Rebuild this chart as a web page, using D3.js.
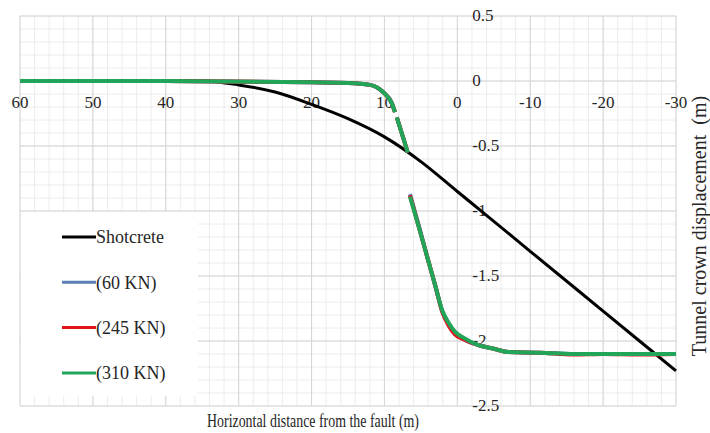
<!DOCTYPE html>
<html>
<head>
<meta charset="utf-8">
<script src="https://cdn.jsdelivr.net/npm/d3@7"></script>
<style>
  body { margin: 0; background: #fff; }
  svg text { font-family: "Liberation Serif", Tinos, "Times New Roman", "DejaVu Serif", serif; fill: #262626; }
</style>
</head>
<body>
<div id="chart"></div>
<script>
// ticks
const xTicks = [60, 50, 40, 30, 20, 10, 0, -10, -20, -30];
const yTicks = [0.5, 0, -0.5, -1, -1.5, -2, -2.5];

// shotcrete curve
const shotX = [60, 35, 30, 25, 20, 15, 10, 5, 0, -3.5, -10, -20, -30];
const shotY = [0, 0, -0.03, -0.085, -0.18, -0.29, -0.43, -0.62, -0.85, -1.01, -1.31, -1.77, -2.23];

// bolt loads (null = break in the curve)
const loadX = [60, 40, 20, 15, 12, 10.2, 9, 8.55, null, 8.3, 6.8, null, 6.5, 5.2, 4, 3, 2.1, 1.2, 0.3, -1, -2.8, -5, -7, -11.3, -16, -20, -25, -30];
const kn60 = [0, 0, -0.01, -0.015, -0.03, -0.085, -0.17, -0.24, null, -0.28, -0.55, null, -0.87, -1.13, -1.38, -1.58, -1.77, -1.87, -1.94, -1.99, -2.03, -2.06, -2.085, -2.09, -2.10, -2.10, -2.10, -2.10];
const kn245 = [0, 0, -0.01, -0.015, -0.03, -0.085, -0.17, -0.24, null, -0.28, -0.55, null, -0.88, -1.14, -1.38, -1.58, -1.77, -1.88, -1.95, -1.99, -2.03, -2.06, -2.085, -2.09, -2.104, -2.10, -2.104, -2.10];
const kn310 = [0, 0, -0.01, -0.015, -0.03, -0.085, -0.17, -0.24, null, -0.28, -0.55, null, -0.89, -1.14, -1.38, -1.58, -1.76, -1.86, -1.93, -1.98, -2.03, -2.06, -2.085, -2.09, -2.10, -2.10, -2.10, -2.10];

const seriesNames = ["Shotcrete", "(60 KN)", "(245 KN)", "(310 KN)"];
const seriesColors = ["#000000", "#5b80b8", "#e3131b", "#21a558"];

const width = 710, height = 433;
const svg = d3.select("#chart").append("svg")
    .attr("width", width)
    .attr("height", height)
    .attr("font-family", "Liberation Serif, Tinos, Times New Roman, serif");

const x = d3.scaleLinear().domain([60, -30]).range([20, 676]);
const y = d3.scaleLinear().domain([0.5, -2.5]).range([16, 406]);

// grid
const grid = svg.append("g");
const minorX = d3.range(60, -30.01, -2);
const minorY = d3.range(0.5, -2.501, -0.1);
grid.selectAll(".mx").data(minorX).enter().append("line")
    .attr("x1", d => x(d)).attr("x2", d => x(d))
    .attr("y1", y(0.5)).attr("y2", y(-2.5))
    .style("stroke", "#ececec");
grid.selectAll(".my").data(minorY).enter().append("line")
    .attr("y1", d => y(d)).attr("y2", d => y(d))
    .attr("x1", x(60)).attr("x2", x(-30))
    .style("stroke", "#ececec");
grid.selectAll(".gx").data(xTicks).enter().append("line")
    .attr("x1", d => x(d)).attr("x2", d => x(d))
    .attr("y1", y(0.5)).attr("y2", y(-2.5))
    .style("stroke", "#d6d6d6");
grid.selectAll(".gy").data(yTicks).enter().append("line")
    .attr("y1", d => y(d)).attr("y2", d => y(d))
    .attr("x1", x(60)).attr("x2", x(-30))
    .style("stroke", "#d6d6d6");

// tick labels
svg.append("g").selectAll("text").data(xTicks).enter().append("text")
    .attr("x", d => x(d)).attr("y", y(0) + 27)
    .attr("text-anchor", "middle")
    .style("font-size", "17px")
    .text(d => d);
svg.append("g").selectAll("text").data(yTicks).enter().append("text")
    .attr("x", x(0) + 15).attr("y", d => y(d) - 1)
    .attr("dy", "0.35em")
    .style("font-size", "17px")
    .text(d => d);

// lines
const line = d3.line()
    .defined(d => d[0] != null && d[1] != null)
    .x(d => x(d[0])).y(d => y(d[1]))
    .curve(d3.curveMonotoneX);

const series = [
  shotX.map((v, i) => [v, shotY[i]]),
  loadX.map((v, i) => [v, kn60[i]]),
  loadX.map((v, i) => [v, kn245[i]]),
  loadX.map((v, i) => [v, kn310[i]])
];

// legend box first (covers grid only)
const legend = svg.append("g");
legend.append("rect")
    .attr("x", 21).attr("y", 212).attr("width", 177).attr("height", 184)
    .style("fill", "#fff");

svg.append("g").selectAll("path").data(series).enter().append("path")
    .attr("d", line)
    .style("fill", "none")
    .style("stroke", (d, i) => seriesColors[i])
    .style("stroke-width", (d, i) => i == 0 ? 3 : 4)
    .style("stroke-linejoin", "round");

const entries = legend.selectAll(".entry").data(seriesNames).enter().append("g")
    .attr("transform", (d, i) => `translate(0, ${237 + i * 45.3})`);
entries.append("line")
    .attr("x1", 62).attr("x2", 96)
    .style("stroke", (d, i) => seriesColors[i])
    .style("stroke-width", 3);
entries.append("text")
    .attr("x", 96).attr("dy", "0.35em")
    .style("font-size", "18px")
    .text(d => d);

// axis titles
svg.append("text")
    .attr("x", 313).attr("y", 427)
    .attr("text-anchor", "middle")
    .attr("textLength", 212)
    .attr("lengthAdjust", "spacingAndGlyphs")
    .style("font-size", "18px")
    .text("Horizontal distance from the fault (m)");

svg.append("text")
    .attr("transform", "translate(706, 226) rotate(-90)")
    .attr("text-anchor", "middle")
    .style("font-size", "20px")
    .style("white-space", "pre")
    .text("Tunnel crown displacement  (m)");
</script>
</body>
</html>
